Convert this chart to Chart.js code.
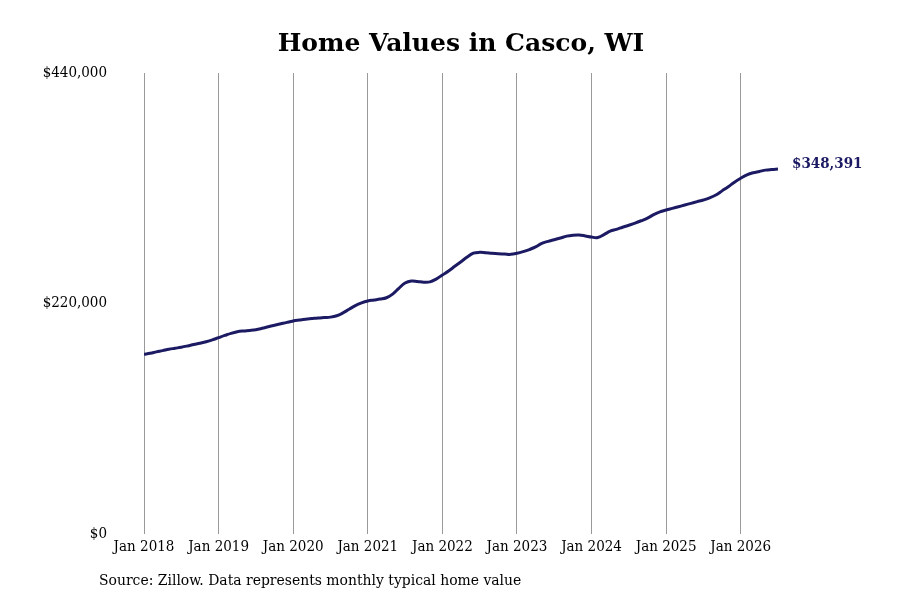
<!DOCTYPE html>
<html>
<head>
<meta charset="utf-8">
<script src="https://cdn.jsdelivr.net/npm/chart.js@4/dist/chart.umd.min.js"></script>
<style>
  html, body { margin: 0; padding: 0; background: #fff; }
  #wrap { width: 900px; height: 600px; }
</style>
</head>
<body>
<div id="wrap"><canvas id="line-chart" width="900" height="600"></canvas></div>
<script>
// monthly typical home value, Jan 2018 .. Jul 2026 (in $1000)
const startYear = 2018;
const values2018 = [171.5, 172.5, 173.8, 175.0, 176.3, 177.3, 178.3, 179.5, 180.8, 182.0, 183.5, 185.3];
const values2019 = [187.4, 189.5, 191.5, 193.0, 193.8, 194.3, 195.0, 196.3, 197.8, 199.2, 200.6, 202.0];
const values2020 = [203.3, 204.2, 205.0, 205.6, 206.2, 206.6, 207.0, 208.3, 211.0, 214.5, 218.0, 220.6];
const values2021 = [222.4, 223.3, 224.2, 225.5, 229.0, 234.5, 239.5, 241.5, 241.0, 240.3, 240.6, 243.3];
const values2022 = [247.2, 251.0, 255.5, 259.9, 264.3, 268.0, 268.8, 268.4, 267.9, 267.5, 267.2, 266.9];
const values2023 = [267.9, 269.5, 271.5, 274.0, 277.5, 279.3, 280.8, 282.5, 284.3, 285.2, 285.4, 284.5];
const values2024 = [283.4, 283.0, 285.8, 289.0, 290.8, 292.8, 294.7, 296.7, 299.0, 301.5, 304.8, 307.4];
const values2025 = [309.2, 310.8, 312.4, 314.0, 315.6, 317.2, 318.8, 320.8, 323.5, 327.5, 331.5, 335.8];
const values2026 = [339.5, 342.8, 344.8, 346.0, 347.3, 347.9, 348.391];
const yTicks = [0, 220000, 440000];
const titleText = 'Home Values in Casco, WI';
const sourceText = 'Source: Zillow. Data represents monthly typical home value';

const lineColor = '#1c1a62';
const serif = "'DejaVu Serif Condensed', 'DejaVu Serif', serif";

const allValues = [].concat(values2018, values2019, values2020, values2021, values2022,
    values2023, values2024, values2025, values2026);
const points = allValues.map((v, i) => ({ x: i, y: v * 1000 }));
const lastPoint = points[points.length - 1];

const money = v => '$' + Math.round(v).toLocaleString('en-US');

// title, source line and end label
const extrasPlugin = {
    id: 'extras',
    afterDraw(chart) {
        const ctx = chart.ctx;
        const area = chart.chartArea;
        ctx.save();
        ctx.fillStyle = '#000';
        ctx.font = "bold 25px 'DejaVu Serif', serif";
        ctx.textAlign = 'center';
        ctx.textBaseline = 'middle';
        ctx.fillText(titleText, (area.left + area.right) / 2, 44);

        ctx.font = '15.5px ' + serif;
        ctx.textAlign = 'left';
        ctx.fillText(sourceText, 99, 581);

        const xs = chart.scales.x.getPixelForValue(lastPoint.x);
        const ys = chart.scales.y.getPixelForValue(lastPoint.y);
        ctx.fillStyle = lineColor;
        ctx.font = 'bold 15px ' + serif;
        ctx.fillText(money(lastPoint.y), xs + 14, ys - 5);
        ctx.restore();
    }
};

new Chart(document.getElementById('line-chart'), {
    type: 'line',
    data: {
        datasets: [{
            data: points,
            borderColor: lineColor,
            borderWidth: 3,
            pointRadius: 0,
            tension: 0.4,
            fill: false
        }]
    },
    options: {
        responsive: false,
        animation: false,
        layout: { padding: { top: 73, right: 122, bottom: 0, left: 0 } },
        plugins: {
            legend: { display: false },
            title: { display: false },
            tooltip: { enabled: false }
        },
        scales: {
            x: {
                type: 'linear',
                min: 0,
                max: points.length - 1,
                afterFit(scale) { scale.height = 66; },
                afterBuildTicks(scale) {
                    const t = [];
                    for (let m = 0; m < points.length; m += 12) t.push({ value: m });
                    scale.ticks = t;
                },
                ticks: {
                    color: '#000',
                    padding: 4,
                    maxRotation: 0,
                    autoSkip: false,
                    font: { family: serif, size: 15 },
                    callback: v => 'Jan ' + (startYear + v / 12)
                },
                grid: { color: '#999', lineWidth: 1, drawTicks: false },
                border: { display: false }
            },
            y: {
                min: 0,
                max: 440000,
                afterFit(scale) { scale.width = 144; },
                afterBuildTicks(scale) {
                    scale.ticks = yTicks.map(v => ({ value: v }));
                },
                ticks: {
                    color: '#000',
                    padding: 37,
                    font: { family: serif, size: 15 },
                    callback: v => money(v)
                },
                grid: { display: false, drawTicks: false },
                border: { display: false }
            }
        }
    },
    plugins: [extrasPlugin]
});
</script>
</body>
</html>
